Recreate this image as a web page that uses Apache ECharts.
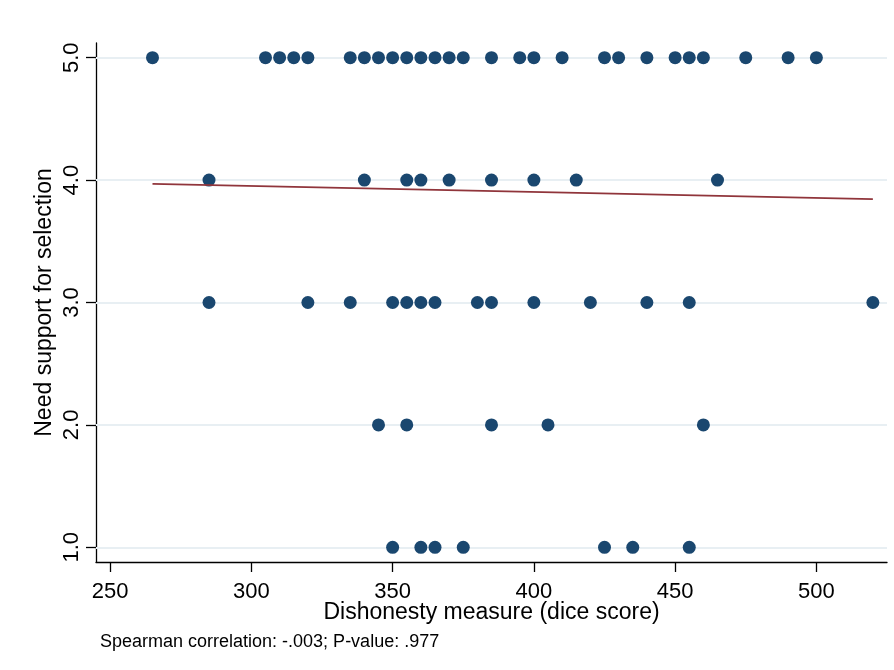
<!DOCTYPE html>
<html>
<head>
<meta charset="utf-8">
<script src="https://cdn.jsdelivr.net/npm/echarts@6/dist/echarts.min.js"></script>
<style>
  html, body { margin: 0; padding: 0; background: #ffffff; }
  #chart { width: 894px; height: 670px; }
</style>
</head>
<body>
<div id="chart"></div>
<script>
// Dice scores grouped by the answer given (1–5)
const score5 = [265, 305, 310, 315, 320, 335, 340, 345, 350, 355, 360, 365, 370, 375, 385, 395, 400, 410, 425, 430, 440, 450, 455, 460, 475, 490, 500];
const score4 = [285, 340, 355, 360, 370, 385, 400, 415, 465];
const score3 = [285, 320, 335, 350, 355, 360, 365, 380, 385, 400, 420, 440, 455, 520];
const score2 = [345, 355, 385, 405, 460];
const score1 = [350, 360, 365, 375, 425, 435, 455];

// Linear fit end points
const fitX = [265, 520];
const fitY = [3.969, 3.844];

const xTicks = [250, 300, 350, 400, 450, 500];
const yTicks = [1, 2, 3, 4, 5];

const groups = [[1, score1], [2, score2], [3, score3], [4, score4], [5, score5]];
const points = [];
groups.forEach(([level, xs]) => xs.forEach(x => points.push([x, level])));

const FONT = '"Liberation Sans", Arial, sans-serif';

const chart = echarts.init(document.getElementById('chart'), null, { renderer: 'canvas' });
chart.setOption({
  animation: false,
  backgroundColor: '#ffffff',
  title: {
    text: 'Spearman correlation: -.003; P-value: .977',
    left: 95,
    top: 628,
    textStyle: { fontFamily: FONT, fontSize: 18, fontWeight: 'normal', color: '#000' }
  },
  grid: { left: 96, right: 7, top: 43, bottom: 108 },
  xAxis: {
    type: 'value',
    min: 245,
    max: 525,
    name: 'Dishonesty measure (dice score)',
    nameLocation: 'middle',
    nameGap: 39,
    nameMoveOverlap: false,
    nameTextStyle: { fontFamily: FONT, fontSize: 23, color: '#000', verticalAlign: 'top' },
    axisLine: { show: true, onZero: false, lineStyle: { color: '#000', width: 1.3 } },
    axisTick: { show: true, length: 10, customValues: xTicks, lineStyle: { color: '#000', width: 1.3 } },
    axisLabel: { customValues: xTicks, margin: 19, fontFamily: FONT, fontSize: 22, color: '#000' },
    splitLine: { show: false }
  },
  yAxis: {
    type: 'value',
    min: 0.88,
    max: 5.12,
    name: 'Need support for selection',
    nameLocation: 'middle',
    nameRotate: 90,
    nameGap: 40,
    nameMoveOverlap: false,
    nameTextStyle: { fontFamily: FONT, fontSize: 23, color: '#000' },
    axisLine: { show: true, onZero: false, lineStyle: { color: '#000', width: 1.3 } },
    axisTick: { show: true, length: 10, customValues: yTicks, lineStyle: { color: '#000', width: 1.3 } },
    axisLabel: {
      customValues: yTicks,
      rotate: 90,
      margin: 13,
      fontFamily: FONT,
      fontSize: 22,
      color: '#000',
      formatter: v => v.toFixed(1)
    },
    splitLine: { show: false }
  },
  series: [
    {
      // horizontal reference lines at each answer level
      type: 'line',
      data: [],
      silent: true,
      z: 1,
      markLine: {
        silent: true,
        z: 1,
        symbol: 'none',
        label: { show: false },
        lineStyle: { color: '#e8eff3', width: 2, type: 'solid' },
        data: yTicks.map(v => ({ yAxis: v }))
      }
    },
    {
      type: 'scatter',
      data: points,
      symbol: 'circle',
      symbolSize: 13,
      itemStyle: { color: '#1a476f', opacity: 1 },
      z: 3
    },
    {
      type: 'line',
      data: fitX.map((x, i) => [x, fitY[i]]),
      symbol: 'none',
      lineStyle: { color: '#90353b', width: 1.8 },
      z: 4
    }
  ]
});
</script>
</body>
</html>
